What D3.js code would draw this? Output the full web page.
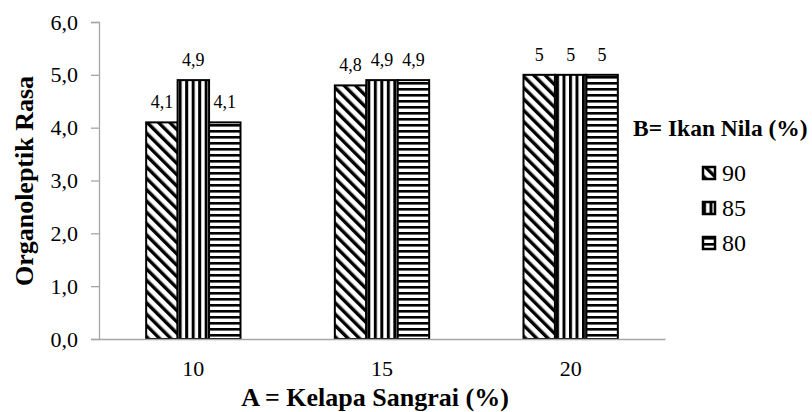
<!DOCTYPE html>
<html>
<head>
<meta charset="utf-8">
<script src="https://cdn.jsdelivr.net/npm/d3@7"></script>
<style>
  body { margin: 0; background: #fff; }
</style>
</head>
<body>
<svg id="chart" width="812" height="412"></svg>
<script>
// data
let categories = ['10', '15', '20'];
let seriesNames = ['90', '85', '80'];
let values90 = [4.1, 4.8, 5];
let values85 = [4.9, 4.9, 5];
let values80 = [4.1, 4.9, 5];
let yTicks = [0, 1, 2, 3, 4, 5, 6];

let seriesValues = [values90, values85, values80];
let patternIds = ['diag', 'vert', 'horiz'];
let serif = 'Liberation Serif';

let margin = {top: 22, left: 99, right: 147, bottom: 73};
let width = 812 - margin.left - margin.right;
let height = 412 - margin.top - margin.bottom;

let svg = d3.select('#chart');

// fill patterns
let defs = svg.append('defs');
let pDiag = defs.append('pattern')
	.attr('id', 'diag')
	.attr('patternUnits', 'userSpaceOnUse')
	.attr('width', 8).attr('height', 8)
	.attr('patternTransform', 'rotate(-45)');
pDiag.append('rect').attr('width', 8).attr('height', 8).attr('fill', '#fff');
pDiag.append('rect').attr('width', 3.4).attr('height', 8).attr('fill', '#000');

let pVert = defs.append('pattern')
	.attr('id', 'vert')
	.attr('patternUnits', 'userSpaceOnUse')
	.attr('width', 6.5).attr('height', 6.5);
pVert.append('rect').attr('width', 6.5).attr('height', 6.5).attr('fill', '#fff');
pVert.append('rect').attr('width', 3).attr('height', 6.5).attr('fill', '#000');

let pHoriz = defs.append('pattern')
	.attr('id', 'horiz')
	.attr('patternUnits', 'userSpaceOnUse')
	.attr('width', 6).attr('height', 6);
pHoriz.append('rect').attr('width', 6).attr('height', 6).attr('fill', '#fff');
pHoriz.append('rect').attr('width', 6).attr('height', 2.6).attr('fill', '#000');

let g = svg.append('g').attr('transform', `translate(${margin.left},${margin.top})`);

let x0 = d3.scaleBand().domain(categories).range([0, width])
	.paddingInner(0.5).paddingOuter(0.25);
let x1 = d3.scaleBand().domain(seriesNames).range([0, x0.bandwidth()]);
let y = d3.scaleLinear().domain([0, 6]).range([height, 0]);

let fmtTick = d => d.toFixed(1).replace('.', ',');
let fmtLabel = d => Number.isInteger(d) ? String(d) : d.toFixed(1).replace('.', ',');

// y axis
let yAxis = g.append('g')
	.call(d3.axisLeft(y).tickValues(yTicks).tickFormat(fmtTick).tickSize(8).tickPadding(13));
yAxis.select('.domain').attr('stroke', '#a6a6a6').attr('stroke-width', 1.3);
yAxis.selectAll('.tick line').attr('stroke', '#a6a6a6').attr('stroke-width', 1.3);
yAxis.selectAll('.tick text')
	.attr('fill', '#000')
	.attr('font-family', serif)
	.attr('font-size', 22);

// bars
categories.forEach(function(cat, ci) {
	let grp = g.append('g').attr('transform', `translate(${x0(cat)},0)`);
	seriesNames.forEach(function(s, si) {
		let v = seriesValues[si][ci];
		grp.append('rect')
			.attr('x', x1(s))
			.attr('y', y(v))
			.attr('width', x1.bandwidth())
			.attr('height', height - y(v))
			.attr('fill', `url(#${patternIds[si]})`)
			.attr('stroke', '#000')
			.attr('stroke-width', 2);
		grp.append('text')
			.attr('x', x1(s) + x1.bandwidth() / 2)
			.attr('y', y(v) - 14)
			.attr('text-anchor', 'middle')
			.attr('font-family', serif)
			.attr('font-size', 18)
			.text(fmtLabel(v));
	});
});

// x axis
let xAxis = g.append('g')
	.attr('transform', `translate(0,${height})`)
	.call(d3.axisBottom(x0).tickSize(0).tickPadding(21));
xAxis.select('.domain').attr('stroke', '#a6a6a6').attr('stroke-width', 1.5);
xAxis.selectAll('.tick text')
	.attr('fill', '#000')
	.attr('font-family', serif)
	.attr('font-size', 22);

// axis titles
svg.append('text')
	.attr('x', 375)
	.attr('y', 406)
	.attr('text-anchor', 'middle')
	.attr('font-family', serif)
	.attr('font-size', 26)
	.attr('font-weight', 'bold')
	.text('A = Kelapa Sangrai (%)');

svg.append('text')
	.attr('transform', 'translate(33,181) rotate(-90)')
	.attr('text-anchor', 'middle')
	.attr('font-family', serif)
	.attr('font-size', 26)
	.attr('font-weight', 'bold')
	.text('Organoleptik Rasa');

// legend
svg.append('text')
	.attr('x', 633)
	.attr('y', 136)
	.attr('font-family', serif)
	.attr('font-size', 23.5)
	.attr('font-weight', 'bold')
	.text('B= Ikan Nila (%)');

let legend = svg.append('g').attr('transform', 'translate(703,167)');
seriesNames.forEach(function(s, si) {
	let item = legend.append('g').attr('transform', `translate(0,${si * 35})`);
	item.append('rect')
		.attr('x', 0).attr('y', 0)
		.attr('width', 12).attr('height', 12)
		.attr('fill', `url(#${patternIds[si]})`)
		.attr('stroke', '#000')
		.attr('stroke-width', 2.5);
	item.append('text')
		.attr('x', 19)
		.attr('y', 14)
		.attr('font-family', serif)
		.attr('font-size', 24)
		.text(s);
});
</script>
</body>
</html>
